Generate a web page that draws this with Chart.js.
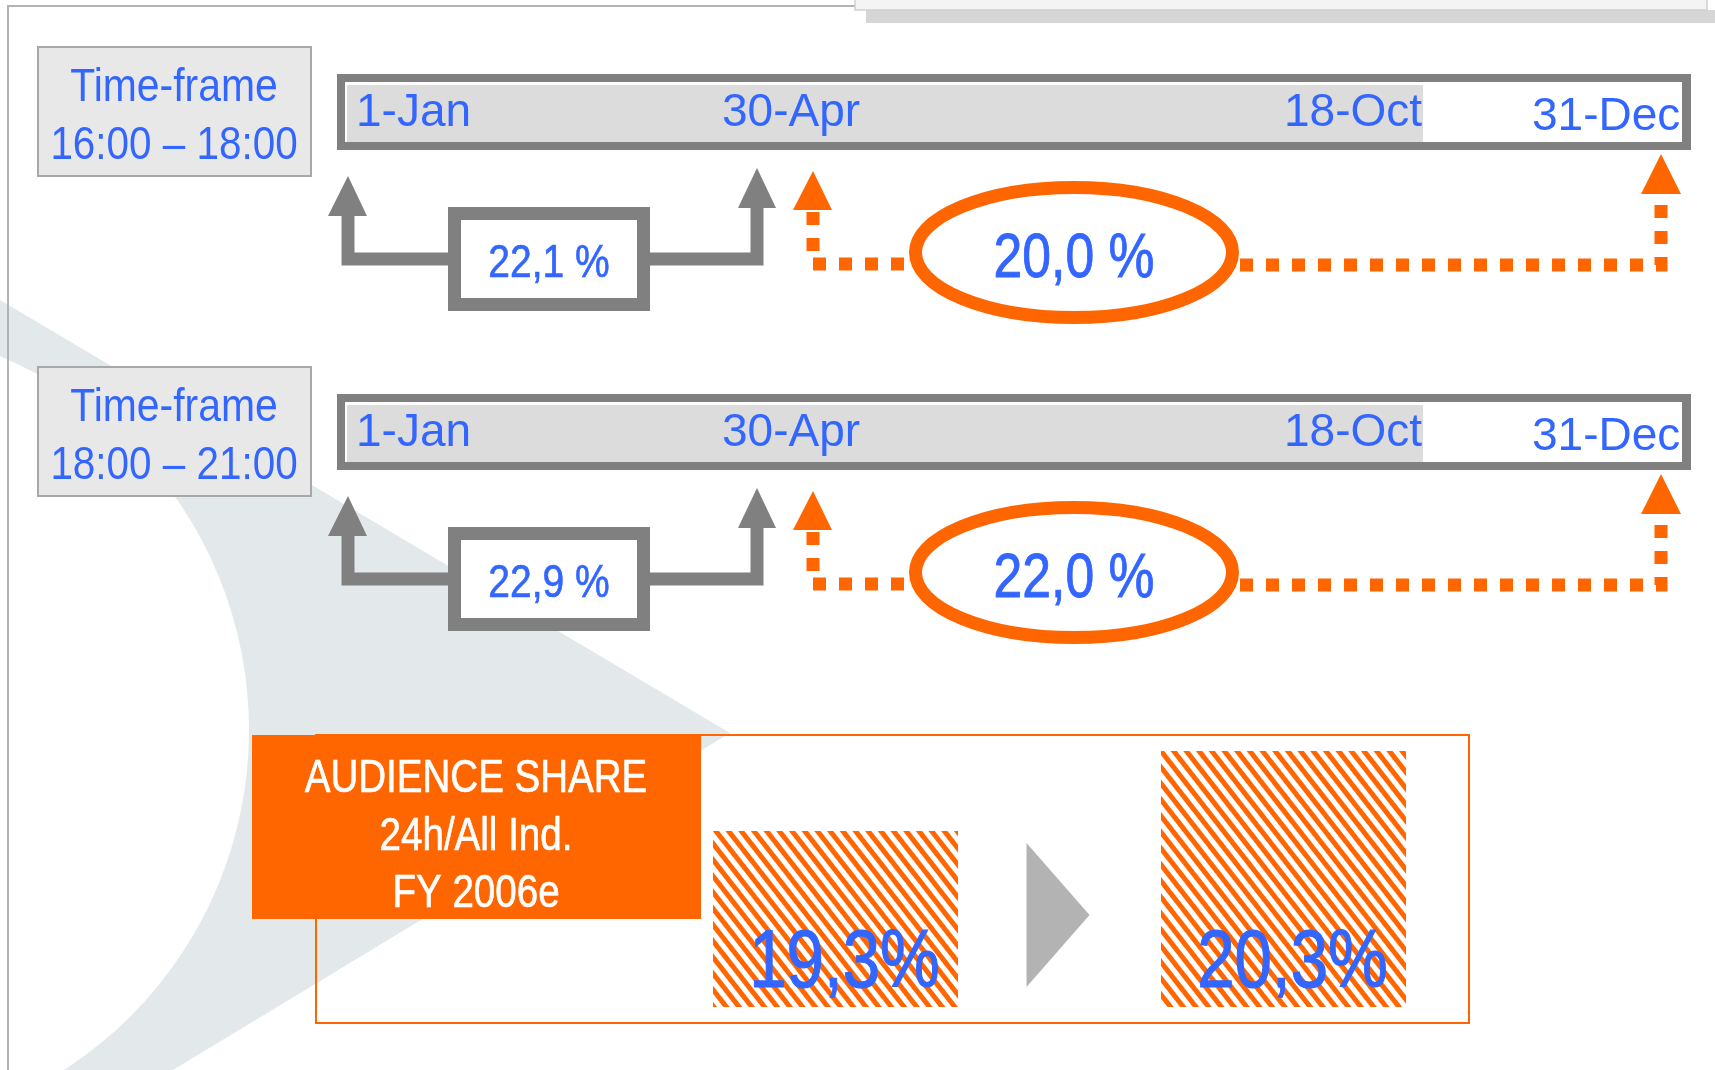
<!DOCTYPE html>
<html>
<head>
<meta charset="utf-8">
<script src="https://cdn.jsdelivr.net/npm/chart.js@4.4.1/dist/chart.umd.min.js"></script>
<style>
  body { margin: 0; background: #fff; }
  #wrap { width: 1715px; height: 1070px; }
</style>
</head>
<body>
<div id="wrap"><canvas id="shareChart" width="1715" height="1070"></canvas></div>
<script>
// chart data
const categories = ['Current', 'Target'];
const shareValues = [19.3, 20.3];
const shareLabels = ['19,3%', '20,3%'];

const timeFrames = ['16:00 – 18:00', '18:00 – 21:00'];
const dateTicks = ['1-Jan', '30-Apr', '18-Oct', '31-Dec'];
const earlyShares = ['22,1 %', '22,9 %'];
const lateShares = ['20,0 %', '22,0 %'];
const titleLines = ['AUDIENCE SHARE', '24h/All Ind.', 'FY 2006e'];

const BLUE = '#3366ff';
const ORANGE = '#ff6600';
const GREY = '#808080';
const FONT = '"Liberation Sans", Arial, sans-serif';
const NARROW = '"Liberation Sans Narrow", "Arial Narrow"';

// is a real narrow face installed? otherwise squeeze the regular one
const probe = document.createElement('canvas').getContext('2d');
probe.font = '40px ' + NARROW + ', monospace';
const wNarrow = probe.measureText('AUDIENCE SHARE').width;
probe.font = '40px monospace';
const hasNarrow = Math.abs(wNarrow - probe.measureText('AUDIENCE SHARE').width) > 1;

function txt(ctx, s, x, y, size, color, sx, align) {
    ctx.save();
    ctx.translate(x, y);
    let family = FONT;
    let bold = false;
    if (sx < 0.85) {
        if (hasNarrow) {
            family = NARROW + ', ' + FONT;
            sx = sx / 0.82;
        } else {
            bold = true;
        }
    }
    ctx.scale(sx, 1);
    ctx.font = size + 'px ' + family;
    ctx.fillStyle = color;
    ctx.textAlign = align || 'center';
    ctx.textBaseline = 'alphabetic';
    ctx.fillText(s, 0, 0);
    if (bold) {
        ctx.strokeStyle = color;
        ctx.lineWidth = size / 70;
        ctx.strokeText(s, 0, 0);
    }
    ctx.restore();
}

function tri(ctx, pts, color) {
    ctx.beginPath();
    ctx.moveTo(pts[0], pts[1]);
    ctx.lineTo(pts[2], pts[3]);
    ctx.lineTo(pts[4], pts[5]);
    ctx.closePath();
    ctx.fillStyle = color;
    ctx.fill();
}

function poly(ctx, pts, color, dash) {
    ctx.save();
    ctx.beginPath();
    ctx.moveTo(pts[0][0], pts[0][1]);
    for (let i = 1; i < pts.length; i++) ctx.lineTo(pts[i][0], pts[i][1]);
    ctx.strokeStyle = color;
    ctx.lineWidth = 13;
    ctx.lineJoin = 'miter';
    ctx.lineCap = 'butt';
    if (dash) ctx.setLineDash(dash);
    ctx.stroke();
    ctx.restore();
}

function drawRow(ctx, i) {
    const dy = i * 320;
    // time-frame box
    ctx.fillStyle = '#e8e8e8';
    ctx.fillRect(38, 47 + dy, 273, 129);
    ctx.strokeStyle = '#a8a8a8';
    ctx.lineWidth = 2;
    ctx.strokeRect(38, 47 + dy, 273, 129);
    txt(ctx, 'Time-frame', 174, 101 + dy, 47, BLUE, 0.87);
    txt(ctx, timeFrames[i], 174, 159 + dy, 47, BLUE, 0.86);

    // timeline bar
    ctx.fillStyle = GREY;
    ctx.fillRect(337, 74 + dy, 1354, 76);
    ctx.fillStyle = '#fff';
    ctx.fillRect(345, 82 + dy, 1337, 60);
    ctx.fillStyle = '#dcdcdc';
    ctx.fillRect(347, 85 + dy, 1076, 57);
    ctx.save();
    ctx.beginPath();
    ctx.rect(345, 82 + dy, 1337, 60);
    ctx.clip();
    txt(ctx, dateTicks[0], 356, 126 + dy, 46, BLUE, 1, 'left');
    txt(ctx, dateTicks[1], 722, 126 + dy, 46, BLUE, 1, 'left');
    txt(ctx, dateTicks[2], 1284, 126 + dy, 46, BLUE, 1, 'left');
    txt(ctx, dateTicks[3], 1532, 130 + dy, 46, BLUE, 1, 'left');
    ctx.restore();

    // grey bracket arrows
    poly(ctx, [[348, 214 + dy], [348, 259 + dy], [450, 259 + dy]], GREY);
    tri(ctx, [328, 216 + dy, 367, 216 + dy, 348, 176 + dy], GREY);
    poly(ctx, [[648, 259 + dy], [757, 259 + dy], [757, 206 + dy]], GREY);
    tri(ctx, [738, 208 + dy, 776, 208 + dy, 757, 168 + dy], GREY);
    ctx.fillStyle = '#fff';
    ctx.fillRect(448, 207 + dy, 202, 104);
    ctx.strokeStyle = GREY;
    ctx.lineWidth = 13;
    ctx.strokeRect(454.5, 213.5 + dy, 189, 91);
    txt(ctx, earlyShares[i], 549, 277 + dy, 47, BLUE, 0.83);

    // orange dotted arrows
    poly(ctx, [[813, 212 + dy], [813, 264 + dy], [910, 264 + dy]], ORANGE, [13, 13]);
    tri(ctx, [793, 210 + dy, 832, 210 + dy, 813, 171 + dy], ORANGE);
    poly(ctx, [[1240, 265 + dy], [1661, 265 + dy], [1661, 196 + dy]], ORANGE, [13, 13]);
    tri(ctx, [1641, 194 + dy, 1681, 194 + dy, 1661, 154 + dy], ORANGE);
    ctx.beginPath();
    ctx.ellipse(1074, 252.5 + dy, 158.5, 65, 0, 0, Math.PI * 2);
    ctx.fillStyle = '#fff';
    ctx.fill();
    ctx.strokeStyle = ORANGE;
    ctx.lineWidth = 13;
    ctx.stroke();
    txt(ctx, lateShares[i], 1074, 277 + dy, 63, BLUE, 0.82);
}

const backdrop = {
    id: 'backdrop',
    beforeDatasetsDraw(chart) {
        const ctx = chart.ctx;
        ctx.save();
        ctx.fillStyle = '#fff';
        ctx.fillRect(0, 0, 1715, 1070);
        // swoosh
        ctx.beginPath();
        ctx.moveTo(0, 300);
        ctx.lineTo(730, 733);
        ctx.lineTo(173, 1070);
        ctx.lineTo(0, 1070);
        ctx.closePath();
        ctx.fillStyle = '#e3e8ea';
        ctx.fill();
        ctx.beginPath();
        ctx.arc(-156, 730, 405, 0, Math.PI * 2);
        ctx.fillStyle = '#fff';
        ctx.fill();
        // page frame
        ctx.strokeStyle = '#b4b4b4';
        ctx.lineWidth = 2;
        ctx.beginPath();
        ctx.moveTo(8, 1070);
        ctx.lineTo(8, 6);
        ctx.lineTo(856, 6);
        ctx.stroke();
        ctx.fillStyle = '#d6d6d6';
        ctx.fillRect(866, 10, 849, 13);
        ctx.fillStyle = '#f4f4f4';
        ctx.fillRect(855, -2, 852, 12);
        ctx.strokeStyle = '#d0d0d0';
        ctx.lineWidth = 1.5;
        ctx.strokeRect(855, -2, 852, 12);

        drawRow(ctx, 0);
        drawRow(ctx, 1);

        // share panel
        ctx.strokeStyle = ORANGE;
        ctx.lineWidth = 2;
        ctx.strokeRect(316, 735, 1153, 288);
        ctx.fillStyle = ORANGE;
        ctx.fillRect(252, 735, 449, 184);
        titleLines.forEach((s, k) => txt(ctx, s, 476, 792 + k * 57.5, 47, '#fff', 0.82));
        ctx.restore();
    },
    afterDatasetsDraw(chart) {
        const ctx = chart.ctx;
        const meta = chart.getDatasetMeta(0);
        ctx.save();
        meta.data.forEach((bar, k) => {
            txt(ctx, shareLabels[k], bar.x + 9, 987, 82, BLUE, 0.82);
        });
        const mid = (meta.data[0].x + meta.data[1].x) / 2;
        tri(ctx, [mid - 33, 843, mid + 30, 915, mid - 33, 987], '#b3b3b3');
        ctx.restore();
    }
};

function hatch() {
    const c = document.createElement('canvas');
    c.width = 10;
    c.height = 10;
    const g = c.getContext('2d');
    g.fillStyle = '#fff';
    g.fillRect(0, 0, 10, 10);
    g.fillStyle = ORANGE;
    g.fillRect(0, 0, 5, 10);
    const p = g.createPattern(c, 'repeat');
    p.setTransform(new DOMMatrix().rotate(-38));
    return p;
}

new Chart(document.getElementById('shareChart'), {
    type: 'bar',
    data: {
        labels: categories,
        datasets: [{
            data: shareValues,
            backgroundColor: hatch(),
            borderWidth: 0,
            categoryPercentage: 1,
            barPercentage: 0.547
        }]
    },
    options: {
        responsive: false,
        animation: false,
        layout: { padding: { left: 611.5, right: 207.5, top: 735, bottom: 63 } },
        scales: {
            x: { display: false },
            y: { display: false, min: 17.1, max: 20.5 }
        },
        plugins: {
            legend: { display: false },
            tooltip: { enabled: false }
        }
    },
    plugins: [backdrop]
});
</script>
</body>
</html>
